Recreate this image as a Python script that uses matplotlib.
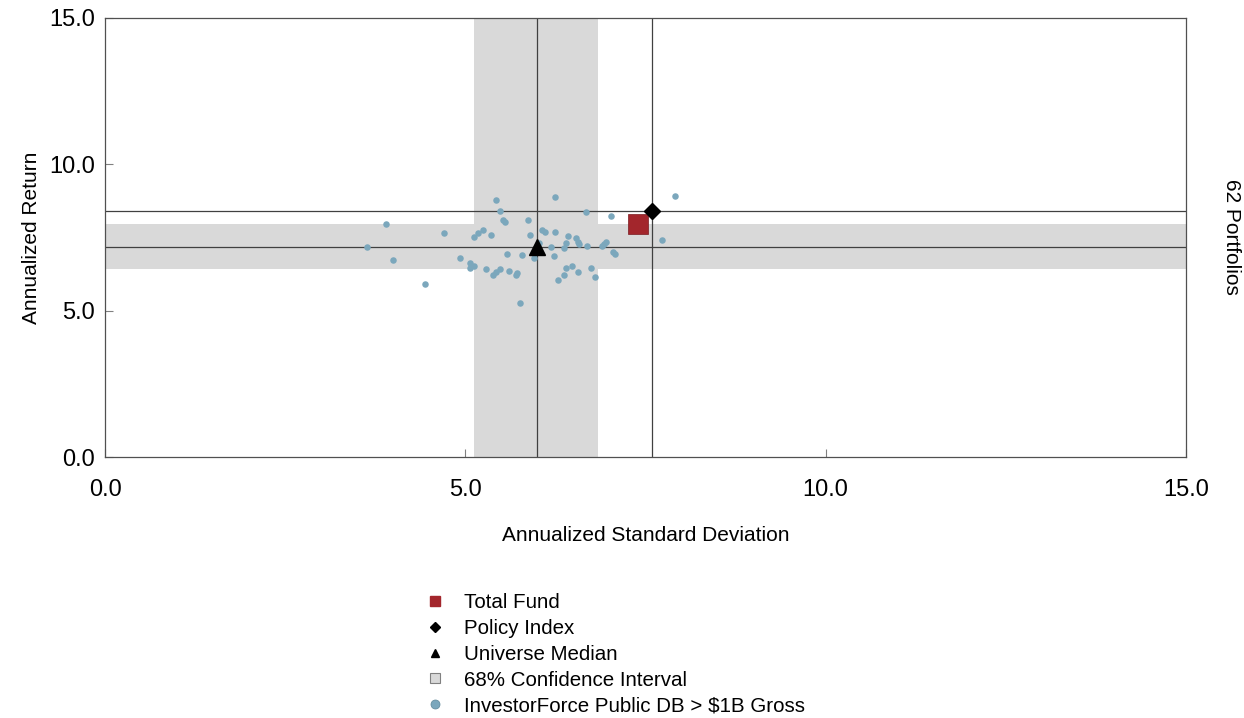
import matplotlib
matplotlib.use("Agg")
import matplotlib.pyplot as plt
from matplotlib.lines import Line2D

plt.rcParams['font.family'] = ['Liberation Sans', 'DejaVu Sans']

# universe portfolios (annualized std dev, annualized return)
univ_sd = [3.90, 3.63, 3.99, 4.44, 4.71, 4.93, 5.07, 5.07, 5.12, 5.12,
           5.18, 5.25, 5.36, 5.42, 5.48, 5.52, 5.55, 5.29, 5.39, 5.43,
           5.48, 5.58, 5.60, 5.70, 5.71, 5.76, 5.79, 5.87, 5.90, 5.95,
           6.07, 6.10, 6.02, 6.19, 6.23, 6.25, 6.24, 6.28, 6.37, 6.40,
           6.37, 6.39, 6.42, 6.48, 6.54, 6.57, 6.58, 6.57, 6.68, 6.69,
           6.74, 6.80, 6.90, 6.92, 6.95, 7.02, 7.05, 7.07, 7.73, 7.91]
univ_ret = [7.95, 7.17, 6.73, 5.90, 7.64, 6.80, 6.62, 6.45, 6.54, 7.53,
            7.66, 7.75, 7.58, 8.78, 8.40, 8.10, 8.04, 6.41, 6.22, 6.33,
            6.43, 6.95, 6.35, 6.22, 6.29, 5.27, 6.89, 8.10, 7.58, 6.79,
            7.76, 7.70, 7.32, 7.17, 6.86, 7.68, 8.87, 6.04, 6.23, 6.45,
            7.13, 7.30, 7.54, 6.54, 7.47, 7.35, 7.28, 6.33, 8.37, 7.21,
            6.45, 6.16, 7.21, 7.29, 7.34, 8.23, 7.01, 6.94, 7.41, 8.92]

fund = (7.39, 7.97)
policy = (7.59, 8.42)
median = (5.99, 7.17)
ci_sd = (5.12, 6.84)
ci_ret = (6.42, 7.96)

n_portfolios = 62
legend_labels = ["Total Fund", "Policy Index", "Universe Median",
                 "68% Confidence Interval", "InvestorForce Public DB > $1B Gross"]

red = "#A3262C"
dot = "#7BA7BC"
band = "#D9D9D9"
line_c = "#404040"

fig = plt.figure(figsize=(12.44, 7.18), dpi=100)
ax = fig.add_axes([105 / 1244, 1 - 457 / 718, 1081 / 1244, 439 / 718])

ax.axvspan(ci_sd[0], ci_sd[1], color=band, lw=0, zorder=0)
ax.axhspan(ci_ret[0], ci_ret[1], color=band, lw=0, zorder=0)
ax.axvline(median[0], color=line_c, lw=0.9, zorder=1)
ax.axhline(median[1], color=line_c, lw=0.9, zorder=1)
ax.axvline(policy[0], color=line_c, lw=0.9, zorder=1)
ax.axhline(policy[1], color=line_c, lw=0.9, zorder=1)

ax.scatter(univ_sd, univ_ret, s=22, color=dot, lw=0, zorder=2)
ax.plot(*fund, marker='s', ms=14, color=red, mec="#7a1a1f", mew=0.5, zorder=4)
ax.plot(*policy, marker='D', ms=8, color='black', zorder=4)
ax.plot(*median, marker='^', ms=11, color='black', zorder=4)

ax.set_xlim(0, 15)
ax.set_ylim(0, 15)
ticks = [0, 5, 10, 15]
ax.set_xticks(ticks)
ax.set_yticks(ticks)
ax.set_xticklabels([f"{t:.1f}" for t in ticks], fontsize=17)
ax.set_yticklabels([f"{t:.1f}" for t in ticks], fontsize=17)
ax.tick_params(axis='both', direction='in', length=6, width=0.8, color="#808080")
ax.tick_params(axis='x', pad=16)
ax.tick_params(axis='y', pad=7)
for sp in ax.spines.values():
    sp.set_color("#505050")
    sp.set_linewidth(0.9)

ax.set_xlabel("Annualized Standard Deviation", fontsize=15, labelpad=18)
ax.set_ylabel("Annualized Return", fontsize=15, labelpad=6)
fig.text(1232 / 1244, 1 - 237 / 718, f"{n_portfolios} Portfolios", rotation=-90,
         fontsize=15, ha='center', va='center')

handles = [
    Line2D([], [], ls='', marker='s', ms=7, color=red),
    Line2D([], [], ls='', marker='D', ms=5, color='black'),
    Line2D([], [], ls='', marker='^', ms=6, color='black'),
    Line2D([], [], ls='', marker='s', ms=7, mfc=band, mec="#808080", mew=0.8),
    Line2D([], [], ls='', marker='o', ms=6.5, mfc=dot, mec="#5d8799", mew=0.5),
]
fig.legend(handles, legend_labels, loc='upper left',
           bbox_to_anchor=(416 / 1244, 1 - 585 / 718), frameon=False,
           fontsize=14.8, handlelength=1.0, handletextpad=0.95,
           labelspacing=0.33, borderaxespad=0)

fig.savefig("out.png", dpi=100)
